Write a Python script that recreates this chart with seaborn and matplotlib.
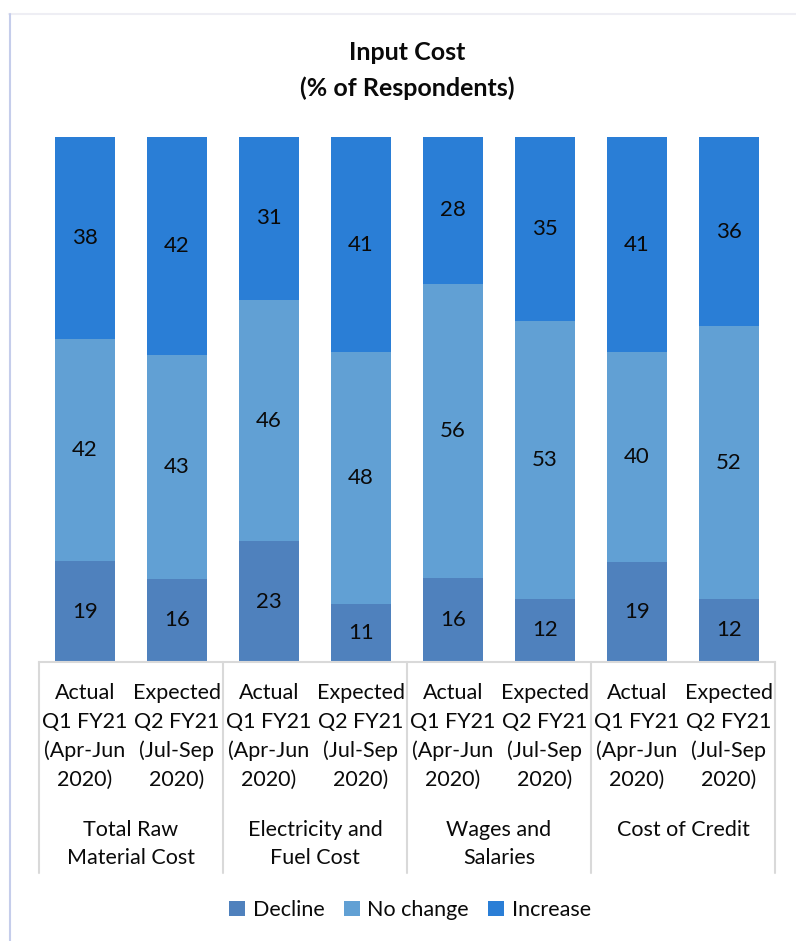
import matplotlib
matplotlib.use("Agg")
import matplotlib.pyplot as plt
import matplotlib.transforms as mtransforms
from matplotlib.lines import Line2D
from matplotlib.patches import Patch
import seaborn as sns
import pandas as pd

# Survey responses (% of respondents) for each input-cost item
periods = ["Actual\nQ1 FY21\n(Apr-Jun\n2020)", "Expected\nQ2 FY21\n(Jul-Sep\n2020)"]
groups = ["Total Raw\nMaterial Cost", "Electricity and\nFuel Cost", "Wages and\nSalaries", "Cost of Credit"]
decline = [19, 16, 23, 11, 16, 12, 19, 12]
no_change = [42, 43, 46, 48, 56, 53, 40, 52]
increase = [38, 42, 31, 41, 28, 35, 41, 36]
series = ["Decline", "No change", "Increase"]
colors = ["#4F81BD", "#61A0D4", "#2A7ED6"]

sns.set_theme(style="white")
plt.rcParams["font.family"] = ["Lato", "DejaVu Sans"]

W, H = 796, 941
fig = plt.figure(figsize=(W / 100, H / 100), dpi=100)
fig.patch.set_facecolor("white")


def fy(py):
    return 1 - py / H


ax = fig.add_axes([39 / W, fy(662), (775 - 39) / W, (662 - 137) / H])

bar_ids = [f"b{i}" for i in range(len(decline))]
df = pd.DataFrame({"bar": bar_ids, "Decline": decline, "No change": no_change, "Increase": increase})
total = df[series].sum(axis=1)
df["s_decline"] = df["Decline"] / total
df["s_mid"] = (df["Decline"] + df["No change"]) / total
df["s_top"] = total / total

# 100% stacked bars drawn as overlapping cumulative layers
for col, c in [("s_top", colors[2]), ("s_mid", colors[1]), ("s_decline", colors[0])]:
    sns.barplot(data=df, x="bar", y=col, order=bar_ids, color=c, saturation=1,
                width=0.66, ax=ax, linewidth=0)

# value labels at segment centres
for i, row in df.iterrows():
    lo = 0.0
    for name, hi in [("Decline", row["s_decline"]), ("No change", row["s_mid"]), ("Increase", row["s_top"])]:
        ax.text(i, (lo + hi) / 2, f"{row[name]}", ha="center", va="center",
                fontsize=16, color="#0A0A0A")
        lo = hi

ax.set_xlim(-0.5, len(decline) - 0.5)
ax.set_ylim(0, 1)
ax.set_xlabel("")
ax.set_ylabel("")
ax.set_xticks([])
ax.set_yticks([])
for s in ["top", "left", "right"]:
    ax.spines[s].set_visible(False)
ax.spines["bottom"].set_color("#D9D9D9")
ax.spines["bottom"].set_linewidth(1.5)

trans = mtransforms.blended_transform_factory(ax.transData, fig.transFigure)

# group separators below the axis
for xb in [-0.5, 1.5, 3.5, 5.5, 7.5]:
    fig.add_artist(Line2D([xb, xb], [fy(662), fy(873)], transform=trans,
                          color="#D9D9D9", linewidth=1.5))

# period labels under each bar
line_y = [693, 722, 751, 780]
for i in range(len(decline)):
    for k, txt in enumerate(periods[i % 2].split("\n")):
        fig.text(i, fy(line_y[k]), txt, transform=trans, ha="center", va="center",
                 fontsize=15.5, color="#0A0A0A")

# cost item labels
for g, name in enumerate(groups):
    for k, txt in enumerate(name.split("\n")):
        fig.text(2 * g + 0.5, fy([830, 858][k]), txt, transform=trans, ha="center",
                 va="center", fontsize=15.5, color="#0A0A0A")

# title
fig.text(407 / W, fy(53), "Input Cost", ha="center", va="center", fontsize=18,
         fontweight="bold", color="#0A0A0A")
fig.text(407 / W, fy(88), "(% of Respondents)", ha="center", va="center", fontsize=18,
         fontweight="bold", color="#0A0A0A")

# legend
handles = [Patch(facecolor=c, edgecolor="none", label=s) for s, c in zip(series, colors)]
fig.legend(handles=handles, loc="center", bbox_to_anchor=(410 / W, fy(910)), ncol=3,
           frameon=False, fontsize=15.5, handlelength=0.75, handleheight=0.75,
           handletextpad=0.35, columnspacing=0.9, labelcolor="#0A0A0A")

# outer chart frame
fig.add_artist(Line2D([9 / W, 1], [fy(14), fy(14)], transform=fig.transFigure,
                      color="#EEEEF4", linewidth=1.5))
fig.add_artist(Line2D([9.5 / W, 9.5 / W], [fy(14), 0], transform=fig.transFigure,
                      color="#C5CDEB", linewidth=1.5))

fig.savefig("out.png", dpi=100, facecolor="white")
